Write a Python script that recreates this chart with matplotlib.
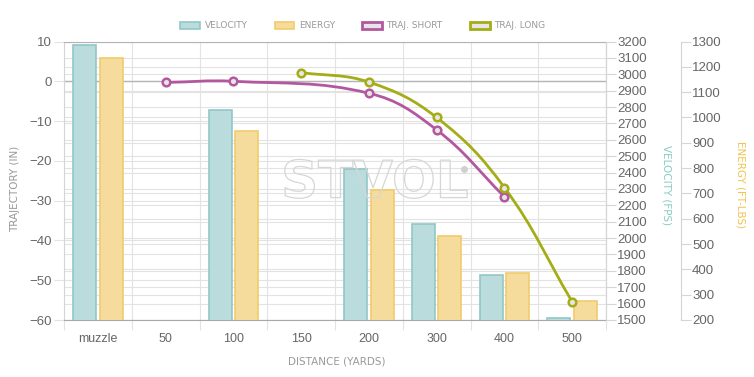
import numpy as np
import matplotlib
matplotlib.use("Agg")
import matplotlib.pyplot as plt
import matplotlib.transforms as mtransforms
import matplotlib.patheffects as pe
from matplotlib.path import Path
from matplotlib.patches import PathPatch, Patch

# données
categories = ["muzzle", "50", "100", "150", "200", "300", "400", "500"]
vel_idx = [0, 2, 4, 5, 6, 7]
velocity = [3180, 2780, 2422, 2086, 1777, 1510]
energy = [1235, 946, 714, 530, 385, 277]
short_idx = [1, 2, 4, 5, 6]
traj_short = [-0.3, 0.0, -3.0, -12.2, -29.0]
long_idx = [3, 4, 5, 6, 7]
traj_long = [2.2, -0.2, -9.1, -26.7, -55.4]

c_vel, c_vel_edge = "#badcdd", "#92c7c8"
c_en, c_en_edge = "#f6dc9c", "#f1cb6c"
c_short = "#b3589f"
c_long = "#a4ad16"
grid_c = "#e3e3e3"
txt_c = "#666666"

plt.rcParams["font.family"] = ["Liberation Sans", "DejaVu Sans"]


def spline_path(xs, ys, sx, sy, t=0.4):
    # courbe de Bézier façon Chart.js (tension 0.4), calculée en pixels
    p = np.column_stack([np.array(xs, float) * sx, np.array(ys, float) * sy])
    n = len(p)
    cpa, cpb = [], []
    for i in range(n):
        prv = p[max(i - 1, 0)]
        nxt = p[min(i + 1, n - 1)]
        d01 = np.hypot(*(p[i] - prv))
        d12 = np.hypot(*(nxt - p[i]))
        tot = d01 + d12
        s01 = d01 / tot if tot else 0
        s12 = d12 / tot if tot else 0
        cpa.append(p[i] - t * s01 * (nxt - prv))
        cpb.append(p[i] + t * s12 * (nxt - prv))
    verts = [p[0]]
    codes = [Path.MOVETO]
    for i in range(n - 1):
        verts += [cpb[i], cpa[i + 1], p[i + 1]]
        codes += [Path.CURVE4] * 3
    verts = np.array(verts) / [sx, sy]
    return Path(verts, codes)


fig = plt.figure(figsize=(7.54, 3.77), dpi=100)
ax = fig.add_axes([64 / 754, 57 / 377, 542 / 754, 278.5 / 377])
axv = ax.twinx()
axe = ax.twinx()
axl = ax.twinx()

n = len(categories)
ax.set_xlim(-0.5, n - 0.5)
ax.set_ylim(-60, 10)
axv.set_ylim(1500, 3200)
axe.set_ylim(200, 1300)
axl.set_ylim(-60, 10)

# grilles, toutes sur l'axe du fond
ax.set_yticks(np.arange(-60, 11, 10))
ax.grid(axis="y", color=grid_c, lw=0.8)
ax.set_axisbelow(True)
blend_v = mtransforms.blended_transform_factory(ax.transAxes, axv.transData)
blend_e = mtransforms.blended_transform_factory(ax.transAxes, axe.transData)
for v in np.arange(1500, 3201, 100):
    ax.plot([0, 1], [v, v], transform=blend_v, color=grid_c, lw=0.8, zorder=0.5)
for e in np.arange(200, 1301, 100):
    ax.plot([0, 1], [e, e], transform=blend_e, color=grid_c, lw=0.8, zorder=0.5)
ax.axhline(0, color="#b5b5b5", lw=1, zorder=0.6)

ax.set_xticks(np.arange(n))
ax.set_xticklabels(categories)
ax.set_xticks(np.arange(n + 1) - 0.5, minor=True)
ax.grid(axis="x", which="minor", color=grid_c, lw=0.8)
ax.tick_params(axis="x", which="major", length=0, pad=9, labelsize=9, labelcolor=txt_c)
ax.tick_params(axis="x", which="minor", length=7, color=grid_c, width=0.8)
ax.tick_params(axis="y", length=7, color=grid_c, width=0.8, pad=2,
               labelsize=9.5, labelcolor=txt_c)

for s in ["left", "right", "top"]:
    ax.spines[s].set_color("#d5d5d5")
ax.spines["top"].set_color("#b5b5b5")
ax.spines["bottom"].set_color("#a8a8a8")

# barres
w = 0.34
off = 0.195
axv.bar(np.array(vel_idx) - off, velocity, width=w, color=c_vel,
        edgecolor=c_vel_edge, lw=1.2)
axe.bar(np.array(vel_idx) + off, energy, width=w, color=c_en,
        edgecolor=c_en_edge, lw=1.2)

axv.set_yticks(np.arange(1500, 3201, 100))
axv.tick_params(axis="y", length=7, color="#d5d5d5", width=0.8, pad=1,
                labelsize=9.5, labelcolor=txt_c)
axe.set_yticks(np.arange(200, 1301, 100))
axe.spines["right"].set_position(("outward", 54))
axe.tick_params(axis="y", length=7, color="#d5d5d5", width=0.8, pad=1,
                labelsize=9.5, labelcolor=txt_c)
for a in (axv, axe, axl):
    for s in ["left", "top", "bottom"]:
        a.spines[s].set_visible(False)
    a.spines["right"].set_color("#d5d5d5")
axl.spines["right"].set_visible(False)
axl.set_yticks([])

# trajectoires
sx, sy = 542 / n, 278.5 / 70
for idx, vals, col in [(short_idx, traj_short, c_short), (long_idx, traj_long, c_long)]:
    axl.add_patch(PathPatch(spline_path(idx, vals, sx, sy), facecolor="none",
                            edgecolor=col, lw=2, zorder=3))
    axl.plot(idx, vals, ls="none", marker="o", ms=5.5, mew=1.8, mec=col,
             mfc="#e6e6e6", zorder=4)
axl.set_xlim(-0.5, n - 0.5)

# filigrane
fig.text(0.497, 0.513, "STVOL", fontsize=37, fontweight="bold",
         family="DejaVu Sans", ha="center", va="center", color="none",
         path_effects=[pe.Stroke(linewidth=0.9, foreground="#d6d6d6")])
ax.plot([464 / 754], [1 - 169 / 377], transform=fig.transFigure, marker="o",
        ms=4, color="#d0d0d0", ls="none", clip_on=False, zorder=0.7)

# titres des axes
fig.text(15 / 754, 0.5, "TRAJECTORY (IN)", rotation=90, ha="center", va="center",
         fontsize=7.5, color="#999999", family="DejaVu Sans")
fig.text(667 / 754, 1 - 185 / 377, "VELOCITY (FPS)", rotation=-90, ha="center",
         va="center", fontsize=7.5, color="#86cbc4", family="DejaVu Sans")
fig.text(741 / 754, 1 - 185 / 377, "ENERGY (FT-LBS)", rotation=-90, ha="center",
         va="center", fontsize=7.5, color="#efc44e", family="DejaVu Sans")
fig.text(0.446, 1 - 362 / 377, "DISTANCE (YARDS)", ha="center", va="center",
         fontsize=7.5, color="#999999", family="DejaVu Sans")

# légende
handles = [
    Patch(facecolor=c_vel, edgecolor=c_vel_edge, lw=1.2, label="VELOCITY"),
    Patch(facecolor=c_en, edgecolor=c_en_edge, lw=1.2, label="ENERGY"),
    Patch(facecolor="#e6e6e6", edgecolor=c_short, lw=2, label="TRAJ. SHORT"),
    Patch(facecolor="#e6e6e6", edgecolor=c_long, lw=2, label="TRAJ. LONG"),
]
leg = fig.legend(handles=handles, loc="center", bbox_to_anchor=(0.481, 1 - 26 / 377),
                 ncol=4, frameon=False, handlelength=2.2, handleheight=0.9,
                 columnspacing=3.0, handletextpad=0.5,
                 prop={"family": "DejaVu Sans", "size": 6.5})
for t in leg.get_texts():
    t.set_color("#999999")

fig.savefig("out.png", dpi=100)
